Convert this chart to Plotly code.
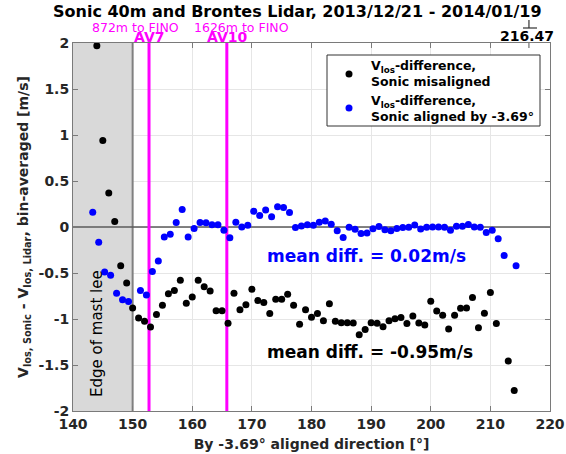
import plotly.graph_objects as go

# Bin-averaged line-of-sight velocity differences (Sonic - Lidar), m/s
misaligned_dir = [144, 145, 146, 147, 148, 149, 150, 151, 152, 153, 154, 155, 156, 157,
                  158, 159, 160, 161, 162, 163, 164, 165, 166, 167, 168, 169, 170, 171,
                  172, 173, 174, 175, 176, 177, 178, 179, 180, 181, 182, 183, 184, 185,
                  186, 187, 188, 189, 190, 191, 192, 193, 194, 195, 196, 197, 198, 199,
                  200, 201, 202, 203, 204, 205, 206, 207, 208, 209, 210, 211, 213, 214]
misaligned_diff = [1.97, 0.94, 0.37, 0.06, -0.42, -0.61, -0.88, -0.99, -1.025, -1.087,
                   -0.95, -0.85, -0.725, -0.69, -0.58, -0.83, -0.76, -0.58, -0.65, -0.695,
                   -0.91, -0.91, -1.047, -0.72, -0.90, -0.845, -0.677, -0.80, -0.82, -0.94,
                   -0.786, -0.786, -0.73, -0.85, -1.058, -0.90, -0.98, -0.94, -1.018, -0.833,
                   -1.025, -1.04, -1.04, -1.043, -1.17, -1.115, -1.04, -1.047, -1.083, -1.02,
                   -0.996, -0.985, -1.05, -0.967, -1.043, -1.065, -0.808, -0.913, -0.96, -1.11,
                   -0.96, -0.884, -0.88, -0.767, -1.094, -0.938, -0.713, -1.05, -1.456, -1.778]

align_offset = -3.69
aligned_bins = [147, 148, 149, 150, 151, 152, 153, 155, 156, 157, 158, 159, 160, 161,
                162, 163, 164, 165, 166, 167, 168, 169, 170, 171, 172, 173, 174, 175,
                176, 177, 178, 179, 180, 181, 182, 183, 184, 185, 186, 187, 188, 189,
                190, 191, 192, 193, 194, 195, 196, 197, 198, 199, 200, 201, 202, 203,
                204, 205, 206, 207, 208, 209, 210, 211, 212, 213, 214, 215, 216, 218]
aligned_diff = [0.16, -0.166, -0.49, -0.525, -0.72, -0.79, -0.81, -0.69, -0.74, -0.485,
                -0.37, -0.11, -0.08, 0.05, 0.19, -0.11, -0.015, 0.05, 0.045, 0.025,
                0.025, -0.035, -0.118, 0.052, 0.0, 0.02, 0.17, 0.125, 0.185, 0.112,
                0.22, 0.212, 0.158, -0.005, 0.01, 0.025, 0.02, 0.052, 0.065, 0.03,
                -0.042, -0.115, -0.004, -0.025, -0.071, -0.065, -0.02, 0.006, -0.03, -0.04,
                -0.015, -0.005, -0.002, 0.022, -0.022, -0.004, 0.0, 0.0, -0.003, -0.036,
                0.008, 0.008, 0.026, 0.0, -0.003, -0.06, -0.036, -0.128, -0.31, -0.42]
aligned_dir = [round(b + align_offset, 2) for b in aligned_bins]

# Reference markers and annotations
mast_lee_edge = 150
av7_dir = 152.75
av10_dir = 165.8
marked_dir = 216.47
mean_aligned = 0.02
mean_misaligned = -0.95

x_ticks = [140, 150, 160, 170, 180, 190, 200, 210, 220]
y_ticks = [-2, -1.5, -1, -0.5, 0, 0.5, 1, 1.5, 2]
y_tick_text = ["-2", "-1.5", "-1", "-0.5", "0", "0.5", "1", "1.5", "2"]

series_names = [("V<sub>los</sub>-difference,", "Sonic misaligned"),
                ("V<sub>los</sub>-difference,", f"Sonic aligned by {align_offset}°")]
series_colors = ["black", "#0000ff"]

W, H = 566, 454
ML, MR, MT, MB = 73, 16, 43, 43
PW, PH = W - ML - MR, H - MT - MB


def px(xp):
    return (xp - ML) / PW


def py(yp):
    return (H - MB - yp) / PH


FONT = "DejaVu Sans"
MAGENTA = "#ff00ff"

fig = go.Figure()

fig.add_trace(go.Scatter(
    x=misaligned_dir, y=misaligned_diff, mode="markers",
    marker=dict(color=series_colors[0], size=7),
    name=" ".join(series_names[0]), showlegend=False,
))
fig.add_trace(go.Scatter(
    x=aligned_dir, y=aligned_diff, mode="markers",
    marker=dict(color=series_colors[1], size=7),
    name=" ".join(series_names[1]), showlegend=False,
))

shapes = [
    # mast lee region
    dict(type="rect", xref="x", yref="y", x0=140, x1=mast_lee_edge, y0=-2, y1=2,
         fillcolor="#d9d9d9", line=dict(width=0), layer="between"),
    dict(type="line", xref="x", yref="y", x0=mast_lee_edge, x1=mast_lee_edge, y0=-2, y1=2,
         line=dict(color="#808080", width=2), layer="between"),
    # zero line
    dict(type="line", xref="x", yref="y", x0=140, x1=220, y0=0, y1=0,
         line=dict(color="#5a5a5a", width=1.5), layer="between"),
    # lidar positions
    dict(type="line", xref="x", yref="y", x0=av7_dir, x1=av7_dir, y0=-2, y1=2,
         line=dict(color=MAGENTA, width=3), layer="between"),
    dict(type="line", xref="x", yref="y", x0=av10_dir, x1=av10_dir, y0=-2, y1=2,
         line=dict(color=MAGENTA, width=3), layer="between"),
    # marker above the top axis
    dict(type="line", xref="x", yref="paper", x0=marked_dir, x1=marked_dir,
         y0=py(20), y1=py(28), line=dict(color="#333333", width=1.2)),
    dict(type="line", xref="paper", yref="paper", x0=px(523), x1=px(537),
         y0=py(28), y1=py(28), line=dict(color="#333333", width=1.2)),
    dict(type="line", xref="x", yref="paper", x0=marked_dir, x1=marked_dir,
         y0=1, y1=py(48), line=dict(color="#555555", width=1)),
    # legend box
    dict(type="rect", xref="paper", yref="paper", x0=px(327), x1=px(540),
         y0=py(126), y1=py(55), fillcolor="white", line=dict(color="#333333", width=1),
         layer="above"),
]

# legend symbols
for yc, col in zip([74, 108], series_colors):
    shapes.append(dict(type="circle", xref="paper", yref="paper",
                       xsizemode="pixel", ysizemode="pixel",
                       xanchor=px(349), yanchor=py(yc), x0=-3.5, x1=3.5, y0=-3.5, y1=3.5,
                       fillcolor=col, line=dict(width=0), layer="above"))


def label(text, x, y, size, color="black", xref="paper", yref="paper", xanchor="center", **kw):
    return dict(text=text, xref=xref, yref=yref, x=x, y=y, showarrow=False,
                xanchor=xanchor, yanchor="middle",
                font=dict(size=size, color=color, family=FONT), **kw)


annotations = [
    label("<b>Sonic 40m and Brontes Lidar, 2013/12/21 - 2014/01/19</b>", px(297), py(12), 16),
    label("872m to FINO", px(135), py(27.5), 12.5, MAGENTA),
    label("1626m to FINO", px(241), py(27.5), 12.5, MAGENTA),
    label("<b>AV7</b>", av7_dir, py(37.5), 14, MAGENTA, xref="x"),
    label("<b>AV10</b>", av10_dir, py(37.5), 14, MAGENTA, xref="x"),
    label("<b>216.47</b>", px(527), py(36), 14),
    label("Edge of mast lee", 143.9, -1.16, 15, xref="x", yref="y", textangle=-90),
    label(f"<b>mean diff. = {mean_aligned:.2f}m/s</b>", 189.2, -0.32, 17, "#0000ff",
          xref="x", yref="y"),
    label(f"<b>mean diff. = {mean_misaligned:.2f}m/s</b>", 189.8, -1.36, 17,
          xref="x", yref="y"),
]

# legend text, one line per annotation
for (line1, line2), y1, y2 in zip(series_names, [67, 101], [82, 116]):
    annotations.append(label(f"<b>{line1}</b>", px(369), py(y1), 12.5, xanchor="left"))
    annotations.append(label(f"<b>{line2}</b>", px(369), py(y2), 12.5, xanchor="left"))

axis_common = dict(
    showgrid=True, gridcolor="#e6e6e6", gridwidth=1,
    showline=True, linecolor="#7a7a7a", linewidth=1, mirror="ticks",
    ticks="inside", ticklen=5, tickcolor="#7a7a7a",
    zeroline=False, automargin=False,
    tickfont=dict(size=14, color="#262626", family=FONT),
)

fig.update_layout(
    width=W, height=H,
    margin=dict(l=ML, r=MR, t=MT, b=MB),
    paper_bgcolor="white", plot_bgcolor="white",
    font=dict(family=FONT, color="black"),
    showlegend=False,
    shapes=shapes,
    annotations=annotations,
    xaxis=dict(range=[140, 220], tickvals=x_ticks, ticktext=[f"<b>{t}</b>" for t in x_ticks],
               title=dict(text="<b>By -3.69° aligned direction [°]</b>",
                          font=dict(size=14, color="#262626", family=FONT), standoff=8),
               **axis_common),
    yaxis=dict(range=[-2, 2], tickvals=y_ticks, ticktext=[f"<b>{t}</b>" for t in y_tick_text],
               title=dict(text="<b>V<sub>los, Sonic</sub> - V<sub>los, Lidar</sub>, bin-averaged [m/s]</b>",
                          font=dict(size=14, color="#262626", family=FONT), standoff=6),
               **axis_common),
)

fig.write_html("out.html")
